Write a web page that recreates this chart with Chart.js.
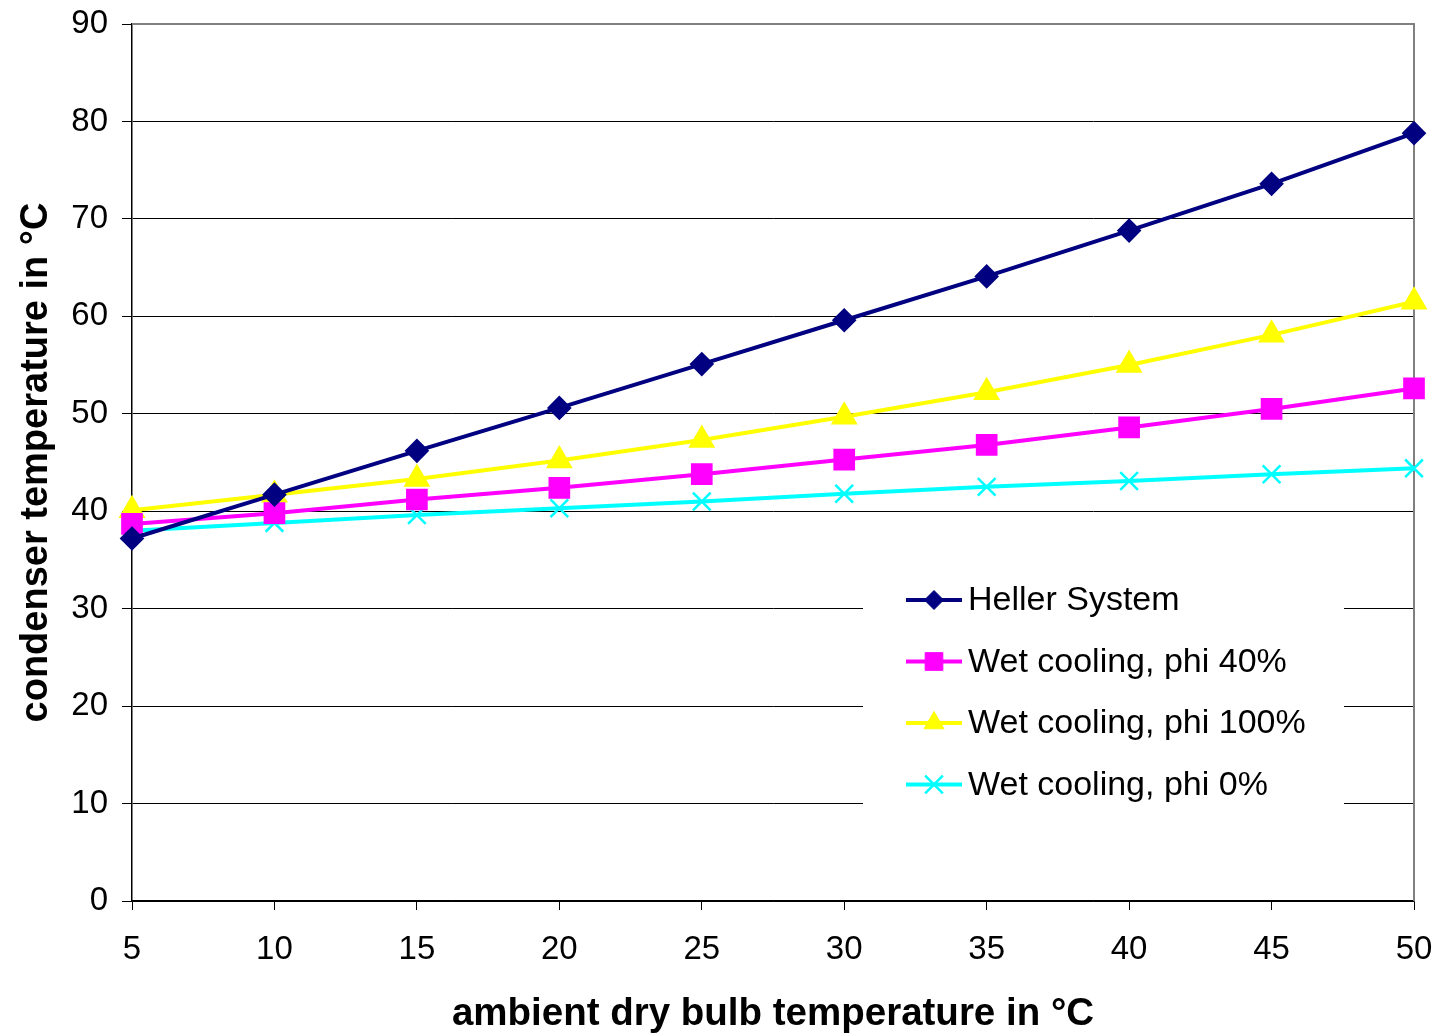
<!DOCTYPE html>
<html>
<head>
<meta charset="utf-8">
<script src="https://cdn.jsdelivr.net/npm/chart.js@4.4.0/dist/chart.umd.min.js"></script>
<style>
  html, body { margin: 0; padding: 0; background: #fff; }
  #wrap { width: 1440px; height: 1033px; }
</style>
</head>
<body>
<div id="wrap"><canvas id="c" width="1440" height="1033"></canvas></div>
<script>
// ambient dry bulb temperature (x)
const ambient = [5, 10, 15, 20, 25, 30, 35, 40, 45, 50];
// condenser temperatures
const heller = [37.2, 41.7, 46.2, 50.6, 55.1, 59.6, 64.1, 68.8, 73.6, 78.8];
const wet40 = [38.7, 39.8, 41.2, 42.4, 43.8, 45.3, 46.8, 48.6, 50.5, 52.6];
const wet100 = [40.1, 41.7, 43.3, 45.2, 47.3, 49.7, 52.2, 55.0, 58.1, 61.5];
const wet0 = [38.0, 38.8, 39.6, 40.3, 41.0, 41.8, 42.5, 43.1, 43.8, 44.4];

const seriesNames = ['Heller System', 'Wet cooling, phi 40%', 'Wet cooling, phi 100%', 'Wet cooling, phi 0%'];

const FONT = '"Liberation Sans", Arial, sans-serif';

function pts(ys) { return ambient.map((x, i) => ({ x: x, y: ys[i] })); }

const datasets = [
  { label: seriesNames[0], data: pts(heller), borderColor: '#000080', backgroundColor: '#000080', pointStyle: 'rectRot', pointRadius: 9.5 },
  { label: seriesNames[1], data: pts(wet40), borderColor: '#ff00ff', backgroundColor: '#ff00ff', pointStyle: 'rect', pointRadius: 12.5 },
  { label: seriesNames[2], data: pts(wet100), borderColor: '#ffff00', backgroundColor: '#ffff00', pointStyle: 'triangle', pointRadius: 11.5 },
  { label: seriesNames[3], data: pts(wet0), borderColor: '#00ffff', backgroundColor: '#00ffff', pointStyle: 'crossRot', pointRadius: 12.5, pointBorderWidth: 2.5 }
].map(d => Object.assign({ borderWidth: 4, tension: 0, pointHoverRadius: d.pointRadius }, d));

// white legend box over the grid, drawn before the lines
const boxLegend = {
  id: 'boxLegend',
  beforeDatasetsDraw(chart) {
    const ctx = chart.ctx;
    ctx.save();
    ctx.fillStyle = '#fff';
    ctx.fillRect(863, 566, 481, 264);
    ctx.font = '34px ' + FONT;
    ctx.textBaseline = 'middle';
    chart.data.datasets.forEach((ds, i) => {
      const y = 600 + i * 61.5;
      ctx.strokeStyle = ds.borderColor;
      ctx.lineWidth = 4;
      ctx.beginPath();
      ctx.moveTo(906, y);
      ctx.lineTo(962, y);
      ctx.stroke();
      ctx.fillStyle = ds.backgroundColor;
      ctx.lineWidth = ds.pointBorderWidth || 1;
      Chart.helpers.drawPoint(ctx, {
        pointStyle: ds.pointStyle, radius: ds.pointRadius, borderWidth: ds.pointBorderWidth || 1
      }, 934, y);
      ctx.fillStyle = '#000';
      ctx.fillText(ds.label, 968, y + 1);
    });
    // gray frame at top and right of plot area
    const a = chart.chartArea;
    ctx.strokeStyle = '#808080';
    ctx.lineWidth = 2;
    ctx.beginPath();
    ctx.moveTo(a.left, a.top);
    ctx.lineTo(a.right, a.top);
    ctx.lineTo(a.right, a.bottom);
    ctx.stroke();
    ctx.restore();
  }
};

new Chart(document.getElementById('c'), {
  type: 'line',
  data: { datasets: datasets },
  options: {
    responsive: false,
    animation: false,
    clip: false,
    layout: { padding: { left: 0, right: 26, top: 24, bottom: 0 } },
    plugins: { legend: { display: false }, tooltip: { enabled: false } },
    scales: {
      x: {
        type: 'linear', min: 5, max: 50,
        afterFit(s) { s.height = 132; s.paddingLeft = 0; s.paddingRight = 0; },
        ticks: { stepSize: 5, color: '#000', font: { family: FONT, size: 33 }, padding: 20 },
        grid: { drawOnChartArea: false, drawTicks: true, tickLength: 9, color: '#000' },
        border: { color: '#000', width: 1.5 },
        title: { display: true, text: 'ambient dry bulb temperature in °C', color: '#000',
                 font: { family: FONT, size: 38.5, weight: 'bold' }, padding: { top: 14, bottom: -4 } }
      },
      y: {
        min: 0, max: 90,
        afterFit(s) { s.width = 132; s.paddingTop = 0; s.paddingBottom = 0; },
        ticks: { stepSize: 10, color: '#000', font: { family: FONT, size: 33 }, padding: 14 },
        grid: { color: '#000', lineWidth: 1, tickLength: 10 },
        border: { color: '#000', width: 1.5 },
        title: { display: true, text: 'condenser temperature in °C', color: '#000',
                 font: { family: FONT, size: 38, weight: 'bold' }, padding: { bottom: 0, top: 14 } }
      }
    }
  },
  plugins: [boxLegend]
});
</script>
</body>
</html>
